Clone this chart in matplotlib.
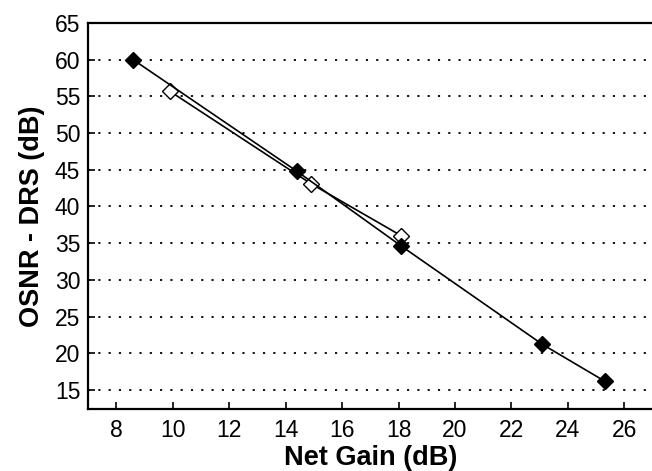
import matplotlib
matplotlib.use("Agg")
import matplotlib.pyplot as plt

# Data
filled_x = [8.6, 14.4, 18.1, 23.1, 25.3]
filled_y = [60.0, 44.8, 34.6, 21.2, 16.2]
open_x = [9.9, 14.9, 18.1]
open_y = [55.7, 43.1, 36.0]
x_ticks = [8, 10, 12, 14, 16, 18, 20, 22, 24, 26]
y_ticks = [15, 20, 25, 30, 35, 40, 45, 50, 55, 60, 65]

plt.rcParams['font.family'] = ['Liberation Sans', 'DejaVu Sans']

fig = plt.figure(figsize=(6.52, 4.71), dpi=100)
ax = fig.add_axes([88/652, 1 - 409/471, (654 - 88)/652, (409 - 23)/471])

ax.plot(open_x, open_y, color='black', lw=1.2, marker='D', markersize=8.5,
        markerfacecolor='white', markeredgecolor='black', markeredgewidth=1.0, zorder=3)
ax.plot(filled_x, filled_y, color='black', lw=1.2, marker='D', markersize=8.5,
        markerfacecolor='black', markeredgecolor='black', zorder=4)

ax.set_xlim(7, 27.05)
ax.set_ylim(12.4, 65)
ax.set_xticks(x_ticks)
ax.set_yticks(y_ticks)
ax.yaxis.grid(True, linestyle=(0, (1.2, 4.5)), color='black', lw=1.3)
ax.xaxis.grid(False)
ax.set_axisbelow(True)

ax.tick_params(direction='in', length=5, width=1.2, labelsize=16.5, colors='black')
ax.tick_params(axis='y', pad=5.5)
ax.tick_params(axis='x', pad=7)
for s in ax.spines.values():
    s.set_linewidth(1.6)

ax.set_xlabel('Net Gain (dB)', fontsize=19.5, fontweight='bold', labelpad=2.5)
ax.set_ylabel('OSNR - DRS (dB)', fontsize=19.5, fontweight='bold', labelpad=7)

fig.savefig('out.png', dpi=100)
